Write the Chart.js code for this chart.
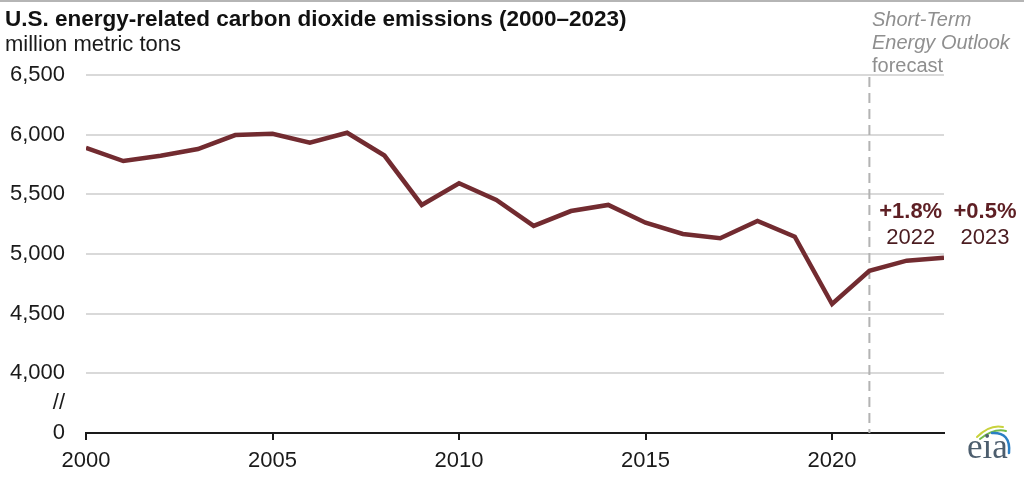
<!DOCTYPE html>
<html><head><meta charset="utf-8">
<script src="https://cdn.jsdelivr.net/npm/chart.js@4/dist/chart.umd.min.js"></script>
<style>
html,body{margin:0;padding:0;background:#fff;}
#wrap{position:relative;width:1024px;height:491px;overflow:hidden;font-family:"Liberation Sans",Arial,sans-serif;}
#topline{position:absolute;left:0;top:0;width:1024px;height:2px;background:#b5b5b5;}
.t{position:absolute;white-space:nowrap;line-height:22px;}
#title{left:5px;top:8px;font-size:22.5px;font-weight:bold;color:#111;}
#sub{left:5px;top:33px;font-size:22px;color:#1a1a1a;}
.note{font-size:20px;color:#8f8f8f;left:872px;line-height:20px;}
.ann{position:absolute;font-size:22px;line-height:22px;text-align:center;width:100px;color:#5e1f24;}
.ann b{display:block;}
.ann span{display:block;margin-top:4px;color:#4a1c20;}
#logo{position:absolute;left:967px;top:430px;font-family:"Liberation Serif","DejaVu Serif",serif;font-size:35px;color:#4d5e6e;line-height:34px;}
canvas{position:absolute;left:0;top:0;}
</style></head>
<body><div id="wrap">
<canvas id="c" width="1024" height="491"></canvas>
<div id="topline"></div>
<div class="t" id="title">U.S. energy-related carbon dioxide emissions (2000–2023)</div>
<div class="t" id="sub">million metric tons</div>
<div class="t note" style="top:9px;font-style:italic">Short-Term</div>
<div class="t note" style="top:32px;font-style:italic">Energy Outlook</div>
<div class="t note" style="top:55px;">forecast</div>
<div class="ann" id="ann0"><b>+1.8%</b><span>2022</span></div>
<div class="ann" id="ann1"><b>+0.5%</b><span>2023</span></div>
<div id="logo">eia</div>
</div>
<script>
const years = [2000,2001,2002,2003,2004,2005,2006,2007,2008,2009,2010,2011,2012,2013,2014,2015,2016,2017,2018,2019,2020,2021,2022,2023];
const emissions = [5890,5779,5824,5880,5997,6008,5932,6016,5825,5411,5593,5453,5235,5360,5411,5262,5168,5132,5277,5145,4581,4860,4944,4969];
const xTickYears = [2000,2005,2010,2015,2020];
const yTickValues = [3500,3750,4000,4500,5000,5500,6000,6500];
const yTickLabels = ['0','//','4,000','4,500','5,000','5,500','6,000','6,500'];
const forecastStartYear = 2021;
const changeYears = [2022,2023];
const changeLabelShift = [4,41];

const points = years.map((y,i)=>({x:y,y:emissions[i]}));

const extras = {
  id:'extras',
  beforeDatasetsDraw(chart){
    const {ctx, chartArea, scales} = chart;
    const x = scales.x.getPixelForValue(forecastStartYear);
    ctx.save();
    ctx.strokeStyle = '#b3b3b3';
    ctx.lineWidth = 2;
    ctx.setLineDash([10,6]);
    ctx.beginPath();
    ctx.moveTo(x, chartArea.top+2);
    ctx.lineTo(x, chartArea.bottom);
    ctx.stroke();
    ctx.restore();
  },
  afterDraw(chart){
    const {ctx, scales} = chart;
    changeYears.forEach((yr,i)=>{
      const el = document.getElementById('ann'+i);
      el.style.left = (scales.x.getPixelForValue(yr) - 50 + changeLabelShift[i]) + 'px';
      el.style.top = '200px';
    });
    ctx.save();
    ctx.lineCap='round';
    ctx.lineWidth=2;
    ctx.strokeStyle='#c9d23c';
    ctx.beginPath(); ctx.moveTo(977,437); ctx.quadraticCurveTo(990,424,1003,427); ctx.stroke();
    ctx.strokeStyle='#74bb4a';
    ctx.beginPath(); ctx.moveTo(980,439); ctx.quadraticCurveTo(994,428,1006,431); ctx.stroke();
    ctx.strokeStyle='#2b7fc4'; ctx.lineWidth=2.5;
    ctx.beginPath(); ctx.moveTo(992,433); ctx.quadraticCurveTo(1011,432,1009,453); ctx.stroke();
    ctx.restore();
  }
};

new Chart(document.getElementById('c'), {
  type:'line',
  data:{datasets:[{data:points, borderColor:'#722b30', borderWidth:4.5, pointRadius:0, tension:0, fill:false}]},
  options:{
    responsive:false, animation:false,
    layout:{padding:{top:75,right:80,left:0,bottom:0}},
    plugins:{legend:{display:false}, tooltip:{enabled:false}},
    scales:{
      x:{type:'linear', min:2000, max:2023,
        afterBuildTicks(s){ s.ticks = xTickYears.map(v=>({value:v})); },
        afterFit(s){ s.height = 58; },
        ticks:{callback:v=>String(v), color:'#1a1a1a', font:{family:'"Liberation Sans", Arial, sans-serif', size:22}, padding:8, maxRotation:0, autoSkip:false},
        grid:{drawOnChartArea:false, drawTicks:true, tickLength:7, color:'#1a1a1a', lineWidth:2},
        border:{display:true, color:'#1a1a1a', width:2}
      },
      y:{type:'linear', min:3500, max:6500,
        afterBuildTicks(s){ s.ticks = yTickValues.map(v=>({value:v})); },
        afterFit(s){ s.width = 86; },
        ticks:{callback:(v)=>{const i=yTickValues.indexOf(v); return i>=0?yTickLabels[i]:'';}, color:'#1a1a1a', font:{family:'"Liberation Sans", Arial, sans-serif', size:22}, padding:21, autoSkip:false},
        grid:{drawTicks:false, color:(c)=> (c.tick && c.tick.value>=4000) ? '#d9d9d9' : 'rgba(0,0,0,0)', lineWidth:2},
        border:{display:false}
      }
    }
  },
  plugins:[extras]
});
</script>
</body></html>
